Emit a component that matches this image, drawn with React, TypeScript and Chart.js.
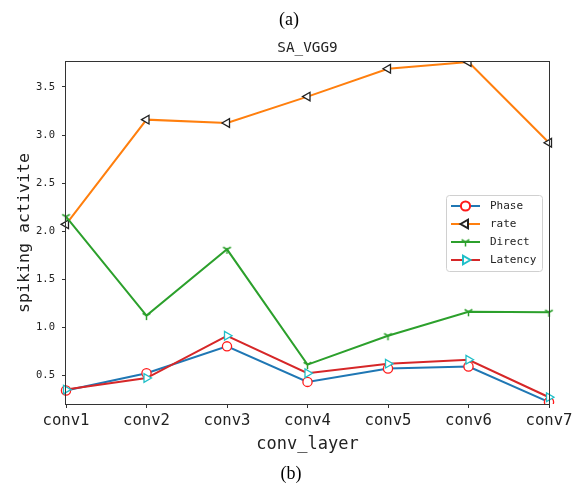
import React, { useEffect, useRef } from "react";
import { Chart, registerables } from "chart.js";
import { drawPoint } from "chart.js/helpers";

Chart.register(...registerables);

// Spiking activity per convolutional layer for each input encoding
const layers = ["conv1", "conv2", "conv3", "conv4", "conv5", "conv6", "conv7"];
const phase = [0.34, 0.52, 0.8, 0.43, 0.57, 0.59, 0.22];
const rate = [2.07, 3.16, 3.125, 3.4, 3.69, 3.76, 2.92];
const direct = [2.15, 1.12, 1.81, 0.61, 0.91, 1.16, 1.155];
const latency = [0.35, 0.47, 0.91, 0.52, 0.62, 0.66, 0.27];
const yTicks = [0.5, 1.0, 1.5, 2.0, 2.5, 3.0, 3.5];
const yMin = 0.2;
const yMax = 3.76;

const MONO = "'DejaVu Sans Mono', monospace";
const SERIF = "'Liberation Serif', 'Times New Roman', serif";

// "Y"-shaped marker (three spokes: down, upper-left, upper-right)
function triDown(color: string, r: number): HTMLCanvasElement {
  const size = Math.ceil(r * 2 + 4);
  const c = document.createElement("canvas");
  c.width = size;
  c.height = size;
  const g = c.getContext("2d")!;
  const cx = size / 2;
  const cy = size / 2;
  g.strokeStyle = color;
  g.lineWidth = 1.5;
  g.beginPath();
  g.moveTo(cx, cy);
  g.lineTo(cx, cy + r);
  g.moveTo(cx, cy);
  g.lineTo(cx - r * 0.866, cy - r * 0.5);
  g.moveTo(cx, cy);
  g.lineTo(cx + r * 0.866, cy - r * 0.5);
  g.stroke();
  return c;
}

const frameAndText = {
  id: "frameAndText",
  afterDatasetsDraw(chart: any) {
    const { ctx, chartArea: a } = chart;
    ctx.save();
    ctx.strokeStyle = "#333";
    ctx.lineWidth = 1;
    ctx.strokeRect(
      Math.round(a.left) - 0.5,
      Math.round(a.top) - 0.5,
      Math.round(a.right - a.left) + 1,
      Math.round(a.bottom - a.top) + 1
    );
    ctx.restore();
  },
  afterDraw(chart: any) {
    const { ctx, chartArea: a } = chart;
    ctx.save();
    ctx.fillStyle = "#000";
    ctx.textAlign = "center";
    ctx.textBaseline = "middle";
    ctx.font = `18px ${SERIF}`;
    ctx.fillText("(a)", 289, 20);
    ctx.fillText("(b)", 291, 474);
    ctx.fillStyle = "#222";
    ctx.font = `14.3px ${MONO}`;
    ctx.fillText("SA_VGG9", (a.left + a.right) / 2, 48);

    // legend, placed at the centre right of the plot
    const sets = chart.data.datasets;
    const w = 96;
    const h = 76;
    const bx = a.right - 7 - w;
    const by = (a.top + a.bottom) / 2 - h / 2;
    ctx.fillStyle = "rgba(255,255,255,0.8)";
    ctx.strokeStyle = "#d0d0d0";
    ctx.lineWidth = 1;
    ctx.beginPath();
    (ctx as any).roundRect(bx + 0.5, by + 0.5, w, h, 3);
    ctx.fill();
    ctx.stroke();
    sets.forEach((ds: any, i: number) => {
      const y = by + 11 + i * 18;
      ctx.strokeStyle = ds.borderColor;
      ctx.lineWidth = 2;
      ctx.beginPath();
      ctx.moveTo(bx + 5, y);
      ctx.lineTo(bx + 34, y);
      ctx.stroke();
      ctx.fillStyle = ds.pointBackgroundColor;
      ctx.strokeStyle = ds.pointBorderColor;
      drawPoint(
        ctx,
        {
          pointStyle: ds.pointStyle,
          rotation: ds.pointRotation || 0,
          radius: ds.pointRadius,
          borderWidth: ds.pointBorderWidth,
        } as any,
        bx + 19.5,
        y
      );
      ctx.fillStyle = "#222";
      ctx.textAlign = "left";
      ctx.font = `11px ${MONO}`;
      ctx.fillText(ds.label, bx + 44, y + 0.5);
    });
    ctx.restore();
  },
};

export default function App() {
  const ref = useRef<HTMLCanvasElement | null>(null);

  useEffect(() => {
    if (!ref.current) return;
    const chart = new Chart(ref.current, {
      type: "line",
      data: {
        labels: layers,
        datasets: [
          {
            label: "Phase",
            data: phase,
            borderColor: "#1f77b4",
            borderWidth: 2,
            pointStyle: "circle",
            pointRadius: 4.6,
            pointBorderWidth: 1.3,
            pointBorderColor: "#ff1a1a",
            pointBackgroundColor: "#ffffff",
            order: 3,
          },
          {
            label: "rate",
            data: rate,
            borderColor: "#ff7f0e",
            borderWidth: 2,
            pointStyle: "triangle",
            pointRotation: -90,
            pointRadius: 5,
            pointBorderWidth: 1.3,
            pointBorderColor: "#222222",
            pointBackgroundColor: "#ffffff",
            order: 2,
          },
          {
            label: "Direct",
            data: direct,
            borderColor: "#2ca02c",
            borderWidth: 2,
            pointStyle: triDown("#2ca02c", 4.5) as any,
            pointRadius: 4.5,
            pointBorderWidth: 0,
            pointBorderColor: "#2ca02c",
            pointBackgroundColor: "#2ca02c",
            order: 1,
          },
          {
            label: "Latency",
            data: latency,
            borderColor: "#d62728",
            borderWidth: 2,
            pointStyle: "triangle",
            pointRotation: 90,
            pointRadius: 5,
            pointBorderWidth: 1.3,
            pointBorderColor: "#1fbfc8",
            pointBackgroundColor: "#ffffff",
            order: 0,
          },
        ],
      },
      options: {
        responsive: false,
        animation: false,
        events: [],
        layout: { padding: { top: 62, right: 38, left: 0, bottom: 0 } },
        plugins: {
          legend: { display: false },
          title: { display: false },
          tooltip: { enabled: false },
        },
        elements: { line: { tension: 0 } },
        scales: {
          x: {
            type: "category",
            offset: false,
            border: { display: false },
            grid: {
              drawOnChartArea: false,
              drawTicks: true,
              tickLength: 4,
              tickColor: "#333",
            },
            ticks: {
              color: "#222",
              padding: 4,
              maxRotation: 0,
              autoSkip: false,
              font: { family: MONO, size: 15.6 },
            },
            title: {
              display: true,
              text: "conv_layer",
              color: "#222",
              font: { family: MONO, size: 17 },
              padding: { top: 0, bottom: 32 },
            },
            afterFit(s: any) {
              s.height = 83;
            },
          },
          y: {
            min: yMin,
            max: yMax,
            border: { display: false },
            grid: {
              drawOnChartArea: false,
              drawTicks: true,
              tickLength: 4,
              tickColor: "#333",
            },
            ticks: {
              color: "#222",
              padding: 7,
              font: { family: MONO, size: 10.5 },
              callback: (v: any) => Number(v).toFixed(1),
            },
            afterBuildTicks(s: any) {
              s.ticks = yTicks.map((v) => ({ value: v }));
            },
            title: {
              display: true,
              text: "spiking activite",
              color: "#222",
              font: { family: MONO, size: 16.6 },
              padding: { top: 15, bottom: 0 },
            },
            afterFit(s: any) {
              s.width = 66;
            },
          },
        },
      },
      plugins: [frameAndText],
    });
    return () => chart.destroy();
  }, []);

  return (
    <div
      style={{
        position: "absolute",
        left: 0,
        top: 0,
        width: 587,
        height: 487,
        background: "#fff",
      }}
    >
      <canvas ref={ref} width={587} height={487} style={{ display: "block" }} />
    </div>
  );
}
